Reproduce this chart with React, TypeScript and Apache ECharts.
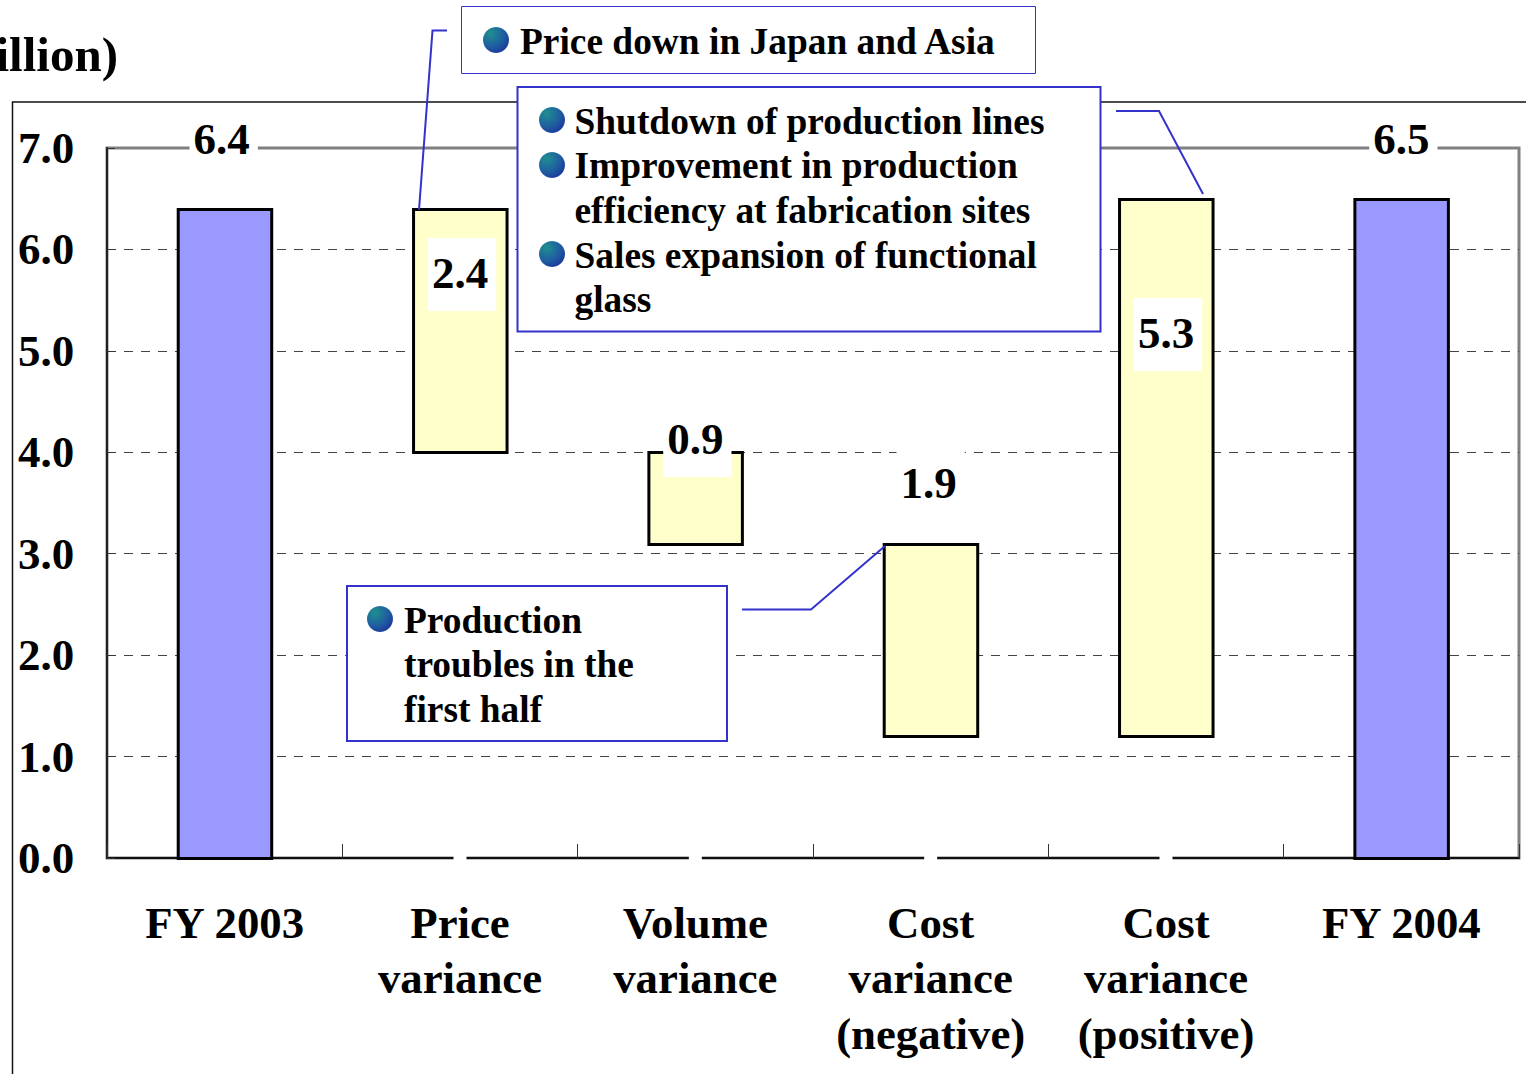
import React, { useEffect, useRef } from "react";
import * as echarts from "echarts";

const categories = ["FY 2003", "Price\nvariance", "Volume\nvariance", "Cost\nvariance\n(negative)", "Cost\nvariance\n(positive)", "FY 2004"];
const baseValues = [0, 4.0, 3.1, 1.2, 1.2, 0];
const barValues = [6.4, 2.4, 0.9, 1.9, 5.3, 6.5];
const barKinds = ["total", "delta", "delta", "delta", "delta", "total"];
const axisGapValues = [null, 0, 0, 0, 0, null];
const yTicks = { min: 0, max: 7, interval: 1 };
const unitText = "illion)";
const note1 = ["Price down in Japan and Asia"];
const note2 = ["Shutdown of production lines", "Improvement in production\nefficiency at fabrication sites", "Sales expansion of functional\nglass"];
const note3 = ["Production\ntroubles in the\nfirst half"];

// Label box centre relative to the top of its bar, in pixels.
const labelOffsets = [[-1, -69], [2, 65], [2, -12], [0, -60], [2, 135], [2, -59]];
const FONT = "'Liberation Serif', serif";
const BLUE = "#3333CC";
const FS = 37.4;
const LH = 44.5;
const BAR_W = 93.5;

const bullet = (cx: number, cy: number) => ({
  type: "circle", z: 30, shape: { cx, cy, r: 13 },
  style: {
    fill: {
      type: "radial", x: 0.3, y: 0.25, r: 0.9,
      colorStops: [{ offset: 0, color: "#1F8F8F" }, { offset: 0.55, color: "#1F5FA0" }, { offset: 1, color: "#1A2F9A" }],
    },
  },
});
const noteText = (x: number, y: number, text: string) => ({
  type: "text", z: 30, x, y,
  style: { text, font: `bold ${FS}px ${FONT}`, fill: "#000", lineHeight: LH, verticalAlign: "top" },
});
const box = (x: number, y: number, width: number, height: number, lw: number) => ({
  type: "rect", z: 20, shape: { x, y, width, height },
  style: { fill: "#fff", stroke: BLUE, lineWidth: lw },
});
const leader = (points: number[][]) => ({
  type: "polyline", z: 25, shape: { points },
  style: { stroke: BLUE, lineWidth: 2, fill: "none" },
});

const renderBar = (params: any, api: any) => {
  const i = api.value(0);
  const cx = api.coord([i, 0])[0];
  const yLow = Math.round(api.coord([i, api.value(1)])[1]) + 0.5;
  const yTop = Math.round(api.coord([i, api.value(2)])[1]) + 0.5;
  const x = cx - BAR_W / 2 + 0.3;
  const off = labelOffsets[i];
  return {
    type: "group",
    children: [
      {
        type: "rect",
        shape: { x, y: yTop, width: BAR_W, height: yLow - yTop },
        style: { fill: barKinds[i] === "total" ? "#9999FF" : "#FFFFCC", stroke: "#000", lineWidth: 3 },
      },
      {
        type: "text", z2: 10, x: cx + off[0], y: yTop + off[1] - 36.5,
        style: {
          text: barValues[i].toFixed(1), font: `bold 45px ${FONT}`, fill: "#000",
          align: "center", verticalAlign: "top", lineHeight: 45, padding: [12, 8, 16, 4], backgroundColor: "#fff",
        },
      },
    ],
  };
};

export default function App() {
  const ref = useRef<HTMLDivElement>(null);
  useEffect(() => {
    document.body.style.margin = "0";
    const chart = echarts.init(ref.current!, null, { renderer: "svg" });
    chart.setOption({
      animation: false,
      backgroundColor: "#fff",
      grid: { left: 107, right: 7, top: 148, bottom: 216, show: true, borderColor: "#808080", borderWidth: 3 },
      xAxis: {
        type: "category", data: categories,
        axisLine: { lineStyle: { color: "#111", width: 2 } },
        axisTick: { show: true, inside: true, length: 14, lineStyle: { color: "#333", width: 1 } },
        axisLabel: { margin: 37, interval: 0, color: "#000", fontFamily: FONT, fontWeight: "bold", fontSize: 44.8, lineHeight: 55.5 },
      },
      yAxis: {
        type: "value", ...yTicks,
        axisLine: { show: true, lineStyle: { color: "#222", width: 2 } },
        axisTick: { show: true, inside: true, length: 8, lineStyle: { color: "#333", width: 1 } },
        axisLabel: { align: "left", margin: 89, color: "#000", fontFamily: FONT, fontWeight: "bold", fontSize: 45, padding: [2, 0, 0, 0], formatter: (v: number) => v.toFixed(1) },
        splitLine: { show: true, showMaxLine: false, showMinLine: false, lineStyle: { color: "#444", width: 1, type: [9, 8] } },
      },
      series: [
        {
          type: "custom", renderItem: renderBar, silent: true, clip: false, z: 4,
          encode: { x: 0, y: [1, 2] },
          data: barValues.map((v, i) => [i, baseValues[i], Math.round((baseValues[i] + v) * 10) / 10]),
        },
        {
          type: "scatter", symbol: "rect", symbolSize: [13, 10], silent: true, clip: false,
          itemStyle: { color: "#fff", opacity: 1 }, data: axisGapValues, z: 10,
        },
      ],
      graphic: [
        { type: "polyline", z: -1, shape: { points: [[12.5, 1074], [12.5, 102], [1526, 102]] }, style: { stroke: "#111", lineWidth: 1.5, fill: "none" } },
        { type: "text", z: 30, x: -4.5, y: 30, style: { text: unitText, font: `bold 49px ${FONT}`, fill: "#000", verticalAlign: "top" } },
        leader([[447, 30.5], [432.5, 30.5], [419, 210]]),
        leader([[1116, 111], [1159, 111], [1203, 194]]),
        leader([[742, 609.5], [811, 609.5], [885, 546]]),
        box(461.5, 6.5, 574, 67, 1),
        box(517.5, 87, 583, 244.5, 2),
        box(347, 586, 380, 155, 2),
        bullet(496, 40), noteText(520, 19, note1[0]),
        bullet(552, 120), noteText(574.5, 99, note2[0]),
        bullet(552, 165), noteText(574.5, 143.5, note2[1]),
        bullet(552, 254), noteText(574.5, 233, note2[2]),
        bullet(380, 619), noteText(404, 598, note3[0]),
      ],
    });
    return () => chart.dispose();
  }, []);
  return <div ref={ref} style={{ width: 1526, height: 1074 }} />;
}
